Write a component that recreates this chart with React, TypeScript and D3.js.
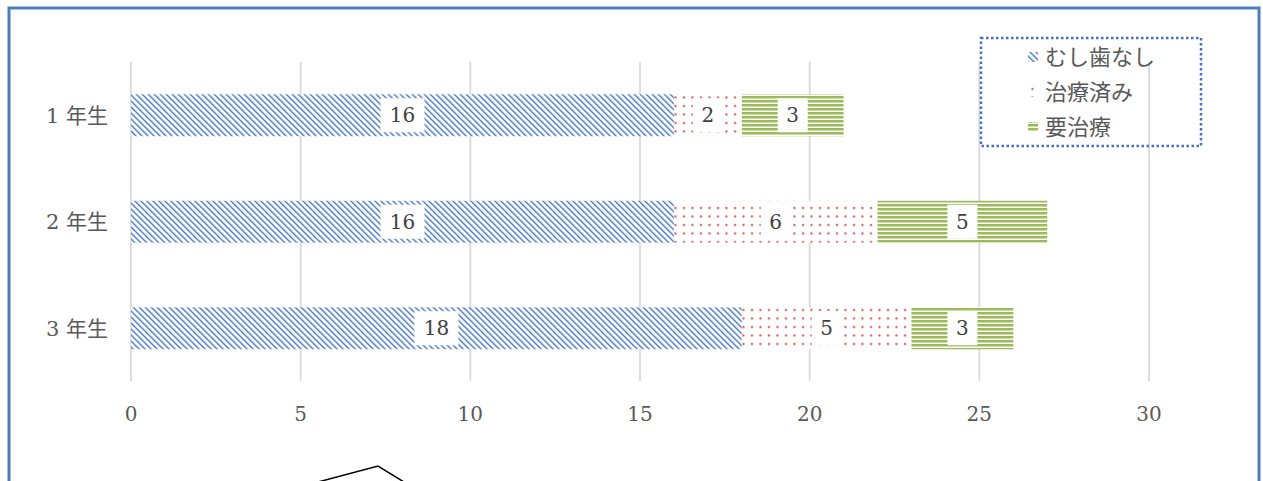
import React from "react";
import * as d3 from "d3";

const categories = ["1 年生", "2 年生", "3 年生"];
const seriesNames = ["むし歯なし", "治療済み", "要治療"];
const noCaries = [16, 16, 18];
const treated = [2, 6, 5];
const needsTreatment = [3, 5, 3];
const xTicks = [0, 5, 10, 15, 20, 25, 30];

const W = 1263;
const H = 481;
const FONT = "'DejaVu Serif', 'Liberation Serif', 'Noto Sans CJK JP', serif";
const TXT = "#595959";

export default function App() {
  const x = d3.scaleLinear().domain([0, 30]).range([131, 1149]);
  const y = d3
    .scaleBand<string>()
    .domain(categories)
    .range([62, 381.5])
    .paddingInner(0.606)
    .paddingOuter(0.303);

  const series = [noCaries, treated, needsTreatment];
  const fills = ["url(#pDiag)", "url(#pDots)", "url(#pHoriz)"];
  const rows = categories.map((c, i) => {
    let acc = 0;
    return series.map((s, k) => {
      const v = s[i];
      const x0 = acc;
      acc += v;
      return { c, k, v, x0, x1: acc };
    });
  });

  const bh = y.bandwidth();

  return (
    <svg
      width={W}
      height={H}
      style={{ position: "absolute", left: 0, top: 0, background: "#fff" }}
    >
      <defs>
        <pattern id="pDiag" patternUnits="userSpaceOnUse" width={6} height={6}>
          <rect width={6} height={6} fill="#fff" />
          <path
            d="M0,0 L6,6 M-1,5 L1,7 M5,-1 L7,1"
            stroke="#4f7fc8"
            strokeWidth={1.4}
          />
          <path d="M1.2,-0.3 L6.3,4.8 M-0.3,4.2 L1.5,6" stroke="#b4c9ea" strokeWidth={0.6} />
        </pattern>
        <pattern id="pDots" patternUnits="userSpaceOnUse" width={8.5} height={8.5}>
          <rect width={8.5} height={8.5} fill="#fff" />
          <rect x={3} y={3} width={2} height={2} fill="#cf4a47" />
        </pattern>
        <pattern id="pHoriz" patternUnits="userSpaceOnUse" width={8} height={4}>
          <rect width={8} height={4} fill="#fff" />
          <rect y={0} width={8} height={2} fill="#9bbb59" />
          <rect y={2} width={8} height={1} fill="#cddcad" />
        </pattern>
      </defs>

      {/* outer frame */}
      <rect
        x={9}
        y={8}
        width={1250}
        height={600}
        fill="none"
        stroke="#4a7ebb"
        strokeWidth={3}
      />

      {/* gridlines */}
      {xTicks.map((t) => (
        <line
          key={"g" + t}
          x1={x(t)}
          x2={x(t)}
          y1={62}
          y2={381}
          stroke="#d9d9d9"
          strokeWidth={1.8}
        />
      ))}

      {/* bars */}
      {rows.map((segs, i) =>
        segs.map((s) => (
          <rect
            key={`b${i}-${s.k}`}
            x={x(s.x0)}
            y={y(s.c)!}
            width={x(s.x1) - x(s.x0)}
            height={bh}
            fill={fills[s.k]}
          />
        ))
      )}

      {/* data labels */}
      {rows.map((segs, i) =>
        segs.map((s) => {
          const cx = (x(s.x0) + x(s.x1)) / 2;
          const cy = y(s.c)! + bh / 2;
          const bw = String(s.v).length > 1 ? 44 : 30;
          return (
            <g key={`l${i}-${s.k}`}>
              <rect x={cx - bw / 2} y={cy - 17} width={bw} height={34} fill="#fff" />
              <text
                x={cx}
                y={cy}
                dy="0.36em"
                textAnchor="middle"
                fontFamily={FONT}
                fontSize={20}
                fill="#404040"
              >
                {s.v}
              </text>
            </g>
          );
        })
      )}

      {/* category labels */}
      {categories.map((c) => (
        <text
          key={c}
          x={108}
          y={y(c)! + bh / 2}
          dy="0.36em"
          textAnchor="end"
          fontFamily={FONT}
          fontSize={21}
          fill={TXT}
        >
          {c}
        </text>
      ))}

      {/* x tick labels */}
      {xTicks.map((t) => (
        <text
          key={"t" + t}
          x={x(t)}
          y={414}
          dy="0.36em"
          textAnchor="middle"
          fontFamily={FONT}
          fontSize={20}
          fill={TXT}
        >
          {t}
        </text>
      ))}

      {/* legend */}
      <rect
        x={981}
        y={38}
        width={220}
        height={108}
        fill="none"
        stroke="#4472c4"
        strokeWidth={2.5}
        strokeDasharray="2.5 2.5"
      />
      {seriesNames.map((n, k) => {
        const cy = 57 + k * 35;
        return (
          <g key={n}>
            <rect x={1028} y={cy - 5} width={10} height={10} fill={fills[k]} />
            <text
              x={1045}
              y={cy}
              dy="0.36em"
              fontFamily={FONT}
              fontSize={22}
              fill={TXT}
            >
              {n}
            </text>
          </g>
        );
      })}

      {/* partial shape at bottom */}
      <polyline
        points="318,482 378,466 404,482"
        fill="none"
        stroke="#000"
        strokeWidth={1.5}
      />
    </svg>
  );
}
